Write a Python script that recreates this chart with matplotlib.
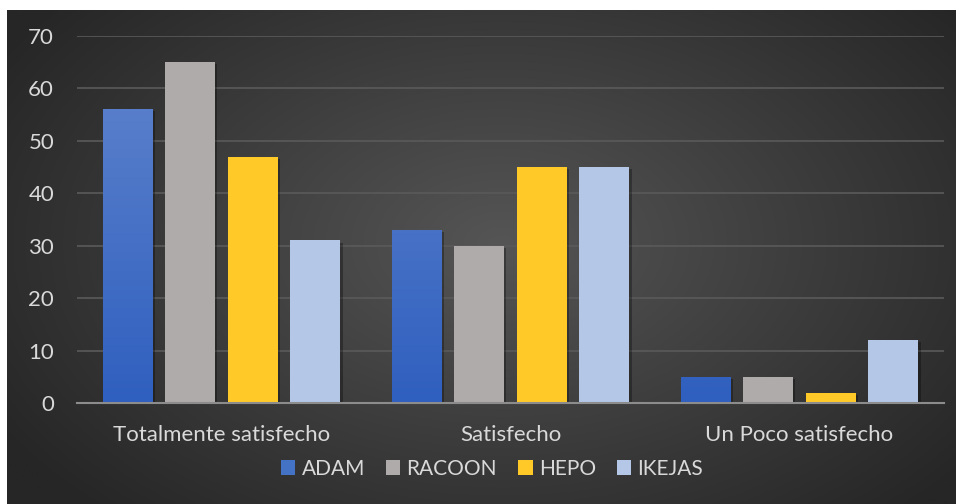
import numpy as np
import matplotlib
matplotlib.use("Agg")
import matplotlib.pyplot as plt
import matplotlib.patheffects as pe
from matplotlib.patches import Patch

categories = ["Totalmente satisfecho", "Satisfecho", "Un Poco satisfecho"]
series_names = ["ADAM", "RACOON", "HEPO", "IKEJAS"]
adam = [56, 33, 5]
racoon = [65, 30, 5]
hepo = [47, 45, 2]
ikejas = [31, 45, 12]
yticks = [0, 10, 20, 30, 40, 50, 60, 70]

colors = ["#4472c4", "#afabab", "#ffca28", "#b4c7e7"]
values = [adam, racoon, hepo, ikejas]

plt.rcParams['font.family'] = ['Lato', 'DejaVu Sans']
W, H = 956, 504
fig = plt.figure(figsize=(W / 100, H / 100), dpi=100)
fig.patch.set_facecolor("white")

# background radial gradient
bg = fig.add_axes([7 / W, 0, 949 / W, 494 / H])
bg.set_axis_off()
ny, nx = 250, 480
yy, xx = np.mgrid[0:ny, 0:nx]
cx, cy = nx * 0.52, ny * 0.47
r = np.sqrt(((xx - cx) / (nx * 0.62)) ** 2 + ((yy - cy) / (ny * 0.75)) ** 2)
r = np.clip(r, 0, 1)
inner = np.array([0x55, 0x55, 0x55]) / 255
outer = np.array([0x26, 0x26, 0x26]) / 255
img = inner[None, None, :] * (1 - r[..., None]) + outer[None, None, :] * r[..., None]
bg.imshow(img, aspect="auto", extent=[0, 1, 0, 1], interpolation="bilinear")
bg.set_xlim(0, 1)
bg.set_ylim(0, 1)

ax = fig.add_axes([77 / W, (H - 403) / H, (944 - 77) / W, (403 - 36) / H])
ax.set_facecolor("none")
x = np.arange(len(categories))
width = 0.173
offsets = [-0.325, -0.1083, 0.1083, 0.325]
shadow = [pe.SimplePatchShadow(offset=(1.5, -1.5), shadow_rgbFace="black", alpha=0.3), pe.Normal()]
for i, (name, vals) in enumerate(zip(series_names, values)):
    bars = ax.bar(x + offsets[i], vals, width, color=colors[i], label=name, zorder=3,
                  path_effects=shadow)
    if i == 0:
        grad = np.linspace(0, 1, 256)[:, None]
        top = np.array([0x62, 0x86, 0xcd]) / 255
        bot = np.array([0x2f, 0x5f, 0xbf]) / 255
        gimg = top[None, None, :] * (1 - grad[..., None]) + bot[None, None, :] * grad[..., None]
        for b in bars:
            xb, wb = b.get_x(), b.get_width()
            im = ax.imshow(gimg, extent=[xb, xb + wb, 0, 70], aspect="auto", zorder=4,
                           interpolation="bilinear")
            im.set_clip_path(b)

ax.set_xlim(-0.5, 2.5)
ax.set_ylim(0, 70)
ax.set_yticks(yticks)
ax.set_xticks(x)
ax.set_xticklabels(categories)
ax.yaxis.grid(True, color="#5a5a5a", linewidth=1.2, zorder=0)
ax.set_axisbelow(True)
for s in ["top", "right", "left"]:
    ax.spines[s].set_visible(False)
ax.spines["bottom"].set_color("#8c8c8c")
ax.spines["bottom"].set_linewidth(1.5)
ax.spines["bottom"].set_zorder(5)
ax.tick_params(axis="both", length=0, colors="#d9d9d9", labelsize=16)
ax.tick_params(axis="y", pad=16.5)
ax.tick_params(axis="x", pad=16)

handles = [Patch(facecolor=c, label=n) for c, n in zip(colors, series_names)]
leg = fig.legend(handles=handles, loc="center", bbox_to_anchor=(492 / W, (H - 469) / H),
                 ncol=4, frameon=False, fontsize=15, handlelength=0.7, handleheight=0.7,
                 handletextpad=0.3, columnspacing=1.0)
for t in leg.get_texts():
    t.set_color("#d9d9d9")

fig.savefig("out.png", dpi=100, facecolor="white")
